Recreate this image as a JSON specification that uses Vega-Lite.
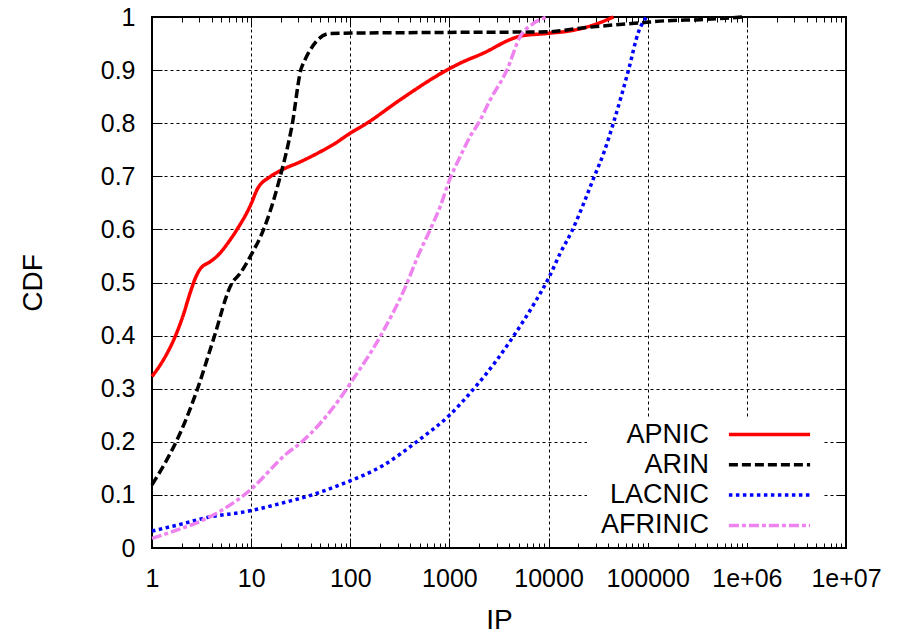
{
  "$schema": "https://vega.github.io/schema/vega-lite/v6.json",
  "width": 694,
  "height": 531,
  "autosize": {"type": "none"},
  "padding": {"left": 152, "top": 17, "right": 67, "bottom": 90},
  "background": "white",
  "config": {
    "font": "Liberation Sans",
    "view": {"stroke": "black", "strokeWidth": 2},
    "axis": {"domain": false, "labelColor": "black", "titleColor": "black", "tickColor": "black", "titleFontWeight": "normal"}
  },
  "data": {"values": [
    {"region": "APNIC", "ip": 1, "cdf": 0.323},
    {"region": "APNIC", "ip": 1.3, "cdf": 0.354},
    {"region": "APNIC", "ip": 1.71, "cdf": 0.398},
    {"region": "APNIC", "ip": 2.07, "cdf": 0.439},
    {"region": "APNIC", "ip": 2.42, "cdf": 0.48},
    {"region": "APNIC", "ip": 2.72, "cdf": 0.507},
    {"region": "APNIC", "ip": 3.05, "cdf": 0.525},
    {"region": "APNIC", "ip": 3.85, "cdf": 0.539},
    {"region": "APNIC", "ip": 4.5, "cdf": 0.549},
    {"region": "APNIC", "ip": 6.12, "cdf": 0.58},
    {"region": "APNIC", "ip": 7.15, "cdf": 0.599},
    {"region": "APNIC", "ip": 10.1, "cdf": 0.65},
    {"region": "APNIC", "ip": 11.4, "cdf": 0.674},
    {"region": "APNIC", "ip": 15.5, "cdf": 0.699},
    {"region": "APNIC", "ip": 20.4, "cdf": 0.712},
    {"region": "APNIC", "ip": 31.1, "cdf": 0.727},
    {"region": "APNIC", "ip": 49.6, "cdf": 0.746},
    {"region": "APNIC", "ip": 67.6, "cdf": 0.76},
    {"region": "APNIC", "ip": 99.5, "cdf": 0.781},
    {"region": "APNIC", "ip": 147, "cdf": 0.8},
    {"region": "APNIC", "ip": 318, "cdf": 0.844},
    {"region": "APNIC", "ip": 941, "cdf": 0.9},
    {"region": "APNIC", "ip": 1282, "cdf": 0.913},
    {"region": "APNIC", "ip": 2203, "cdf": 0.932},
    {"region": "APNIC", "ip": 4426, "cdf": 0.96},
    {"region": "APNIC", "ip": 5168, "cdf": 0.964},
    {"region": "APNIC", "ip": 9610, "cdf": 0.969},
    {"region": "APNIC", "ip": 17800, "cdf": 0.975},
    {"region": "APNIC", "ip": 28400, "cdf": 0.985},
    {"region": "APNIC", "ip": 45200, "cdf": 1.0},
    {"region": "ARIN", "ip": 1, "cdf": 0.119},
    {"region": "ARIN", "ip": 1.41, "cdf": 0.166},
    {"region": "ARIN", "ip": 1.92, "cdf": 0.216},
    {"region": "ARIN", "ip": 2.93, "cdf": 0.304},
    {"region": "ARIN", "ip": 4.15, "cdf": 0.392},
    {"region": "ARIN", "ip": 6.37, "cdf": 0.498},
    {"region": "ARIN", "ip": 7.73, "cdf": 0.517},
    {"region": "ARIN", "ip": 10, "cdf": 0.552},
    {"region": "ARIN", "ip": 13.3, "cdf": 0.599},
    {"region": "ARIN", "ip": 19.6, "cdf": 0.699},
    {"region": "ARIN", "ip": 25.7, "cdf": 0.793},
    {"region": "ARIN", "ip": 32.4, "cdf": 0.906},
    {"region": "ARIN", "ip": 62.5, "cdf": 0.969},
    {"region": "ARIN", "ip": 1000, "cdf": 0.971},
    {"region": "ARIN", "ip": 9600, "cdf": 0.972},
    {"region": "ARIN", "ip": 20800, "cdf": 0.979},
    {"region": "ARIN", "ip": 45200, "cdf": 0.985},
    {"region": "ARIN", "ip": 84000, "cdf": 0.989},
    {"region": "ARIN", "ip": 155000, "cdf": 0.993},
    {"region": "ARIN", "ip": 339000, "cdf": 0.995},
    {"region": "ARIN", "ip": 927000, "cdf": 1.0},
    {"region": "LACNIC", "ip": 1, "cdf": 0.032},
    {"region": "LACNIC", "ip": 2.07, "cdf": 0.046},
    {"region": "LACNIC", "ip": 3.3, "cdf": 0.056},
    {"region": "LACNIC", "ip": 9.75, "cdf": 0.07},
    {"region": "LACNIC", "ip": 22.9, "cdf": 0.087},
    {"region": "LACNIC", "ip": 36.4, "cdf": 0.097},
    {"region": "LACNIC", "ip": 78.9, "cdf": 0.119},
    {"region": "LACNIC", "ip": 216, "cdf": 0.156},
    {"region": "LACNIC", "ip": 506, "cdf": 0.205},
    {"region": "LACNIC", "ip": 1000, "cdf": 0.25},
    {"region": "LACNIC", "ip": 1746, "cdf": 0.299},
    {"region": "LACNIC", "ip": 3006, "cdf": 0.354},
    {"region": "LACNIC", "ip": 4430, "cdf": 0.399},
    {"region": "LACNIC", "ip": 7040, "cdf": 0.458},
    {"region": "LACNIC", "ip": 10000, "cdf": 0.508},
    {"region": "LACNIC", "ip": 13100, "cdf": 0.555},
    {"region": "LACNIC", "ip": 17200, "cdf": 0.597},
    {"region": "LACNIC", "ip": 22500, "cdf": 0.648},
    {"region": "LACNIC", "ip": 28400, "cdf": 0.696},
    {"region": "LACNIC", "ip": 36500, "cdf": 0.747},
    {"region": "LACNIC", "ip": 45000, "cdf": 0.8},
    {"region": "LACNIC", "ip": 64000, "cdf": 0.9},
    {"region": "LACNIC", "ip": 80800, "cdf": 0.972},
    {"region": "LACNIC", "ip": 97000, "cdf": 1.0},
    {"region": "AFRINIC", "ip": 1, "cdf": 0.018},
    {"region": "AFRINIC", "ip": 1.92, "cdf": 0.036},
    {"region": "AFRINIC", "ip": 3.05, "cdf": 0.05},
    {"region": "AFRINIC", "ip": 9.75, "cdf": 0.109},
    {"region": "AFRINIC", "ip": 22.9, "cdf": 0.178},
    {"region": "AFRINIC", "ip": 31.1, "cdf": 0.197},
    {"region": "AFRINIC", "ip": 78.9, "cdf": 0.282},
    {"region": "AFRINIC", "ip": 100, "cdf": 0.31},
    {"region": "AFRINIC", "ip": 200, "cdf": 0.398},
    {"region": "AFRINIC", "ip": 372, "cdf": 0.498},
    {"region": "AFRINIC", "ip": 487, "cdf": 0.552},
    {"region": "AFRINIC", "ip": 638, "cdf": 0.599},
    {"region": "AFRINIC", "ip": 806, "cdf": 0.643},
    {"region": "AFRINIC", "ip": 1016, "cdf": 0.696},
    {"region": "AFRINIC", "ip": 1282, "cdf": 0.737},
    {"region": "AFRINIC", "ip": 1618, "cdf": 0.775},
    {"region": "AFRINIC", "ip": 1963, "cdf": 0.8},
    {"region": "AFRINIC", "ip": 2576, "cdf": 0.844},
    {"region": "AFRINIC", "ip": 3800, "cdf": 0.9},
    {"region": "AFRINIC", "ip": 5170, "cdf": 0.963},
    {"region": "AFRINIC", "ip": 7040, "cdf": 0.988},
    {"region": "AFRINIC", "ip": 9600, "cdf": 1.0}
  ]},
  "resolve": {"axis": {"x": "independent", "y": "independent"}},
  "layer": [
    {
      "mark": {"type": "line", "interpolate": "monotone", "strokeWidth": 3.5},
      "encoding": {
        "x": {"field": "ip", "type": "quantitative",
          "scale": {"type": "log", "domain": [1, 10000000]},
          "axis": {"orient": "bottom", "values": [1, 10, 100, 1000, 10000, 100000, 1000000, 10000000],
            "labelExpr": "datum.value >= 1000000 ? '1e+0' + round(log(datum.value) / LN10) : format(datum.value, 'd')",
            "ticks": false, "grid": true, "gridColor": "black", "gridDash": [3, 3], "gridWidth": 1,
            "labelFontSize": 25, "labelPadding": 18, "labelFlush": false, "labelOverlap": false,
            "title": "IP", "titleFontSize": 28, "titlePadding": 15}},
        "y": {"field": "cdf", "type": "quantitative",
          "scale": {"domain": [0, 1]},
          "axis": {"orient": "left", "values": [0, 0.1, 0.2, 0.3, 0.4, 0.5, 0.6, 0.7, 0.8, 0.9, 1], "format": ".1~f",
            "ticks": false, "grid": true, "gridColor": "black", "gridDash": [3, 3], "gridWidth": 1,
            "labelFontSize": 25, "labelPadding": 17, "labelFlush": false, "labelOverlap": false,
            "title": "CDF", "titleFontSize": 28, "titlePadding": 53}},
        "color": {"field": "region", "type": "nominal",
          "scale": {"domain": ["APNIC", "ARIN", "LACNIC", "AFRINIC"], "range": ["#ff0000", "#000000", "#0000ff", "#ee82ee"]},
          "legend": {"orient": "none", "legendX": 435, "legendY": 400, "title": null,
            "fillColor": "white", "padding": 4, "symbolType": "M31.1,0H51.4", "symbolSize": 64, "symbolStrokeWidth": 3.5,
            "symbolOffset": 0, "labelOffset": 91, "labelAlign": "right", "labelFontSize": 27, "labelColor": "black",
            "rowPadding": 2.3, "labelLimit": 200}},
        "strokeDash": {"field": "region", "type": "nominal",
          "scale": {"domain": ["APNIC", "ARIN", "LACNIC", "AFRINIC"], "range": [[1, 0], [9, 4], [3.5, 3.5], [10, 3, 4, 3]]},
          "legend": {"orient": "none", "legendX": 435, "legendY": 400, "title": null,
            "fillColor": "white", "padding": 4, "symbolType": "M31.1,0H51.4", "symbolSize": 64, "symbolStrokeWidth": 3.5,
            "symbolOffset": 0, "labelOffset": 91, "labelAlign": "right", "labelFontSize": 27, "labelColor": "black",
            "rowPadding": 2.3, "labelLimit": 200}}
      }
    },
    {
      "mark": {"type": "line", "opacity": 0},
      "encoding": {
        "detail": {"field": "region"},
        "x": {"field": "ip", "type": "quantitative", "scale": {"type": "log", "domain": [1, 10000000]},
          "axis": {"orient": "top", "offset": -10, "values": [1, 10, 100, 1000, 10000, 100000, 1000000, 10000000],
            "labels": false, "grid": false, "ticks": true, "tickSize": 10, "tickWidth": 1, "title": null}},
        "y": {"field": "cdf", "type": "quantitative", "scale": {"domain": [0, 1]},
          "axis": {"orient": "right", "offset": -10, "values": [0, 0.1, 0.2, 0.3, 0.4, 0.5, 0.6, 0.7, 0.8, 0.9, 1],
            "labels": false, "grid": false, "ticks": true, "tickSize": 10, "tickWidth": 1, "title": null}}
      }
    },
    {
      "mark": {"type": "line", "opacity": 0},
      "encoding": {
        "detail": {"field": "region"},
        "x": {"field": "ip", "type": "quantitative", "scale": {"type": "log", "domain": [1, 10000000]},
          "axis": {"orient": "bottom", "offset": -10, "values": [1, 10, 100, 1000, 10000, 100000, 1000000, 10000000],
            "labels": false, "grid": false, "ticks": true, "tickSize": 10, "tickWidth": 1, "title": null}},
        "y": {"field": "cdf", "type": "quantitative", "scale": {"domain": [0, 1]},
          "axis": {"orient": "left", "offset": -10, "values": [0, 0.1, 0.2, 0.3, 0.4, 0.5, 0.6, 0.7, 0.8, 0.9, 1],
            "labels": false, "grid": false, "ticks": true, "tickSize": 10, "tickWidth": 1, "title": null}}
      }
    },
    {
      "mark": {"type": "line", "opacity": 0},
      "encoding": {
        "detail": {"field": "region"},
        "x": {"field": "ip", "type": "quantitative", "scale": {"type": "log", "domain": [1, 10000000]},
          "axis": {"orient": "top", "offset": -5, "values": [2, 3, 4, 5, 6, 7, 8, 9, 20, 30, 40, 50, 60, 70, 80, 90, 200, 300, 400, 500, 600, 700, 800, 900, 2000, 3000, 4000, 5000, 6000, 7000, 8000, 9000, 20000, 30000, 40000, 50000, 60000, 70000, 80000, 90000, 200000, 300000, 400000, 500000, 600000, 700000, 800000, 900000, 2000000, 3000000, 4000000, 5000000, 6000000, 7000000, 8000000, 9000000],
            "labels": false, "grid": false, "ticks": true, "tickSize": 5, "tickWidth": 1, "title": null}},
        "y": {"field": "cdf", "type": "quantitative", "scale": {"domain": [0, 1]}, "axis": null}
      }
    },
    {
      "mark": {"type": "line", "opacity": 0},
      "encoding": {
        "detail": {"field": "region"},
        "x": {"field": "ip", "type": "quantitative", "scale": {"type": "log", "domain": [1, 10000000]},
          "axis": {"orient": "bottom", "offset": -5, "values": [2, 3, 4, 5, 6, 7, 8, 9, 20, 30, 40, 50, 60, 70, 80, 90, 200, 300, 400, 500, 600, 700, 800, 900, 2000, 3000, 4000, 5000, 6000, 7000, 8000, 9000, 20000, 30000, 40000, 50000, 60000, 70000, 80000, 90000, 200000, 300000, 400000, 500000, 600000, 700000, 800000, 900000, 2000000, 3000000, 4000000, 5000000, 6000000, 7000000, 8000000, 9000000],
            "labels": false, "grid": false, "ticks": true, "tickSize": 5, "tickWidth": 1, "title": null}},
        "y": {"field": "cdf", "type": "quantitative", "scale": {"domain": [0, 1]}, "axis": null}
      }
    }
  ]
}
